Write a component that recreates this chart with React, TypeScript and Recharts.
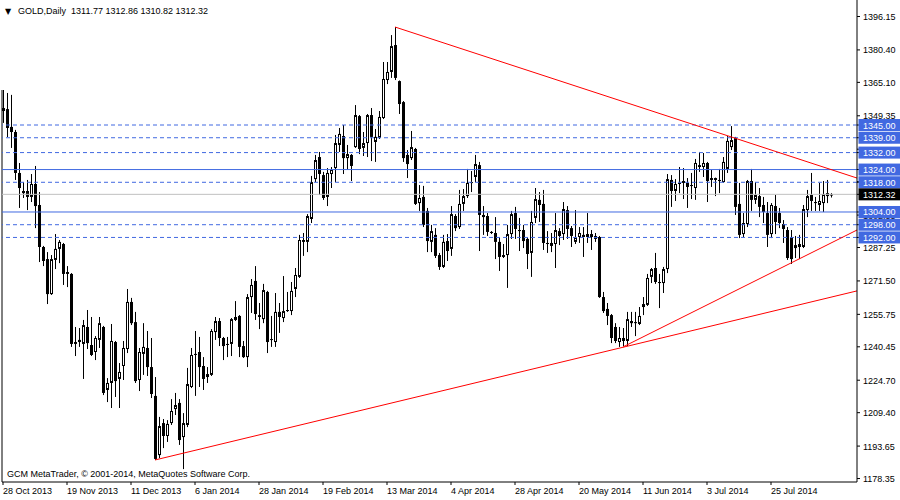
import { ComposedChart, Bar, XAxis, YAxis, ReferenceLine } from "recharts";

const FONT = "'Liberation Sans', Arial, sans-serif";
const BLUE = "#4169E1";

// daily bars, 28 Oct 2013 .. mid Aug 2014
const opens = [
  1353.0, 1352.5, 1344.1, 1341.7, 1322.4, 1313.9, 1313.9, 1311.1, 1317.2, 1307.3,
  1287.5, 1281.8, 1265.3, 1281.4, 1286.6, 1288.9, 1275.7, 1274.8, 1242.7, 1243.7,
  1241.8, 1249.8, 1241.3, 1238.0, 1243.7, 1249.8, 1220.1, 1223.4, 1242.7, 1225.3,
  1231.4, 1239.4, 1261.6, 1252.1, 1224.8, 1237.1, 1239.9, 1230.9, 1217.3, 1189.4,
  1204.5, 1198.4, 1204.5, 1211.1, 1214.0, 1197.9, 1203.6, 1221.5, 1236.6, 1238.0,
  1231.4, 1226.2, 1227.2, 1247.4, 1252.6, 1244.6, 1241.8, 1241.8, 1253.1, 1255.0,
  1240.8, 1235.6, 1263.9, 1271.5, 1254.5, 1253.5, 1266.3, 1244.1, 1242.7, 1256.9,
  1254.0, 1257.8, 1257.3, 1267.7, 1273.4, 1289.9, 1289.9, 1300.7, 1319.5, 1329.9,
  1321.4, 1311.1, 1321.9, 1324.7, 1335.6, 1339.8, 1329.4, 1330.9, 1334.6, 1349.2,
  1334.2, 1336.5, 1349.7, 1337.0, 1338.9, 1348.3, 1366.2, 1370.0, 1382.7, 1365.7,
  1355.8, 1330.9, 1329.4, 1333.7, 1308.2, 1311.1, 1304.5, 1289.9, 1293.2, 1283.7,
  1278.1, 1290.3, 1286.6, 1302.1, 1296.9, 1307.8, 1311.5, 1317.7, 1320.5, 1326.1,
  1302.6, 1302.1, 1294.6, 1294.1, 1289.9, 1283.7, 1283.7, 1293.6, 1303.5, 1295.5,
  1295.5, 1291.3, 1284.7, 1301.2, 1309.7, 1307.8, 1289.4, 1289.4, 1288.9, 1295.0,
  1293.6, 1304.9, 1296.4, 1289.9, 1292.2, 1293.2, 1292.2, 1293.6, 1291.3, 1292.2,
  1263.9, 1258.3, 1255.4, 1249.8, 1242.7, 1244.6, 1243.2, 1252.6, 1252.1, 1251.2,
  1259.2, 1260.2, 1273.4, 1277.6, 1271.0, 1270.5, 1277.1, 1319.1, 1313.9, 1317.7,
  1318.6, 1317.7, 1316.7, 1315.3, 1326.1, 1325.2, 1327.1, 1320.0, 1320.0, 1319.1,
  1318.1, 1324.3, 1334.6, 1338.9, 1307.8, 1293.6, 1298.3, 1318.6, 1309.7, 1311.5,
  1307.3, 1303.5, 1293.6, 1306.8, 1303.5, 1298.3, 1295.5, 1292.2, 1288.4, 1288.9,
  1287.5, 1304.9, 1312.0, 1308.7, 1307.3, 1308.2, 1311.5, 1311.77,
];
const highs = [
  1361.5, 1360.1, 1359.2, 1342.7, 1327.1, 1318.1, 1319.1, 1321.9, 1325.7, 1313.4,
  1288.0, 1285.1, 1283.7, 1293.6, 1290.8, 1289.4, 1278.5, 1275.2, 1249.8, 1249.3,
  1253.1, 1257.8, 1254.5, 1245.5, 1254.5, 1250.3, 1225.7, 1251.2, 1243.2, 1232.8,
  1243.2, 1267.7, 1263.5, 1256.9, 1239.9, 1251.6, 1247.9, 1244.6, 1226.2, 1207.4,
  1206.4, 1205.9, 1215.8, 1218.7, 1215.8, 1209.2, 1230.5, 1239.9, 1247.9, 1245.1,
  1235.6, 1230.9, 1248.8, 1254.5, 1254.0, 1245.1, 1245.1, 1254.0, 1262.0, 1255.4,
  1243.2, 1265.3, 1272.4, 1278.5, 1261.1, 1270.1, 1266.8, 1255.0, 1265.8, 1261.1,
  1273.8, 1266.3, 1271.0, 1277.6, 1293.2, 1294.1, 1303.0, 1321.0, 1330.9, 1332.3,
  1322.9, 1324.7, 1325.2, 1340.3, 1343.6, 1345.0, 1335.6, 1331.3, 1354.4, 1349.7,
  1341.7, 1350.2, 1353.0, 1343.1, 1351.6, 1374.7, 1374.7, 1387.4, 1391.2, 1366.0,
  1356.3, 1333.2, 1342.2, 1334.2, 1316.7, 1316.3, 1305.9, 1297.9, 1296.4, 1284.7,
  1293.2, 1293.6, 1306.8, 1303.0, 1314.4, 1314.8, 1324.3, 1323.3, 1330.9, 1327.6,
  1306.8, 1303.5, 1295.0, 1301.6, 1292.2, 1288.9, 1297.9, 1304.5, 1306.4, 1301.2,
  1297.9, 1292.2, 1304.5, 1315.3, 1313.4, 1314.4, 1295.0, 1294.1, 1303.5, 1296.4,
  1308.7, 1306.8, 1297.4, 1304.9, 1296.9, 1296.9, 1303.5, 1295.5, 1294.1, 1292.7,
  1266.3, 1261.1, 1255.9, 1251.6, 1249.8, 1249.3, 1256.9, 1256.9, 1256.9, 1259.2,
  1263.9, 1274.8, 1277.6, 1284.7, 1274.8, 1278.1, 1321.9, 1321.4, 1319.5, 1325.2,
  1324.7, 1320.0, 1322.4, 1329.0, 1332.3, 1331.8, 1327.6, 1323.8, 1320.2, 1324.3,
  1329.9, 1339.8, 1344.5, 1339.4, 1317.7, 1303.5, 1319.1, 1324.3, 1318.1, 1315.3,
  1311.1, 1308.7, 1308.2, 1312.0, 1305.9, 1300.2, 1296.9, 1295.5, 1292.7, 1293.2,
  1307.3, 1314.4, 1322.4, 1311.1, 1317.7, 1318.6, 1319.1, 1312.86,
];
const lows = [
  1346.0, 1339.3, 1334.2, 1319.1, 1305.9, 1310.6, 1304.9, 1308.7, 1296.4, 1280.4,
  1278.5, 1260.6, 1264.9, 1277.1, 1279.9, 1269.6, 1268.6, 1240.4, 1236.1, 1240.4,
  1225.3, 1239.4, 1236.1, 1234.2, 1239.9, 1217.7, 1214.4, 1211.6, 1216.8, 1211.6,
  1224.8, 1237.5, 1250.7, 1223.4, 1219.6, 1227.2, 1226.7, 1216.3, 1187.1, 1188.0,
  1192.7, 1195.6, 1203.6, 1208.3, 1194.2, 1182.8, 1202.6, 1221.0, 1217.3, 1221.5,
  1220.1, 1223.4, 1226.7, 1243.7, 1240.8, 1234.2, 1235.6, 1236.1, 1252.6, 1235.6,
  1235.2, 1230.9, 1256.4, 1253.1, 1248.8, 1251.6, 1237.5, 1240.4, 1240.4, 1247.0,
  1252.1, 1256.9, 1255.4, 1263.9, 1272.9, 1283.3, 1285.1, 1298.8, 1318.1, 1312.0,
  1309.7, 1306.8, 1315.3, 1318.1, 1332.3, 1321.9, 1323.8, 1318.6, 1334.2, 1331.3,
  1330.4, 1329.9, 1328.0, 1327.6, 1338.4, 1347.8, 1364.3, 1367.2, 1366.2, 1350.2,
  1327.6, 1320.0, 1328.5, 1307.3, 1304.5, 1296.9, 1285.1, 1285.1, 1282.3, 1276.7,
  1277.6, 1280.9, 1283.3, 1295.0, 1296.0, 1304.5, 1310.6, 1313.4, 1318.1, 1285.6,
  1293.2, 1292.7, 1293.6, 1281.8, 1276.2, 1282.3, 1268.2, 1291.3, 1291.3, 1285.6,
  1287.0, 1277.1, 1273.4, 1298.8, 1299.3, 1286.1, 1284.7, 1285.1, 1277.6, 1288.4,
  1290.8, 1291.3, 1287.5, 1288.9, 1289.4, 1282.8, 1289.4, 1286.1, 1289.9, 1263.5,
  1256.4, 1250.7, 1242.2, 1242.2, 1240.4, 1240.8, 1240.8, 1249.8, 1245.5, 1250.7,
  1255.4, 1259.7, 1270.5, 1270.1, 1258.7, 1265.8, 1275.2, 1306.4, 1309.2, 1312.9,
  1310.1, 1305.9, 1310.1, 1309.7, 1322.9, 1320.5, 1308.7, 1315.8, 1311.5, 1312.9,
  1317.7, 1322.4, 1333.2, 1302.6, 1291.7, 1292.2, 1296.9, 1304.5, 1307.8, 1301.6,
  1298.8, 1287.5, 1291.7, 1293.6, 1296.4, 1289.4, 1281.4, 1279.5, 1282.3, 1281.8,
  1287.0, 1301.6, 1304.5, 1304.5, 1304.5, 1304.0, 1308.2, 1310.82,
];
const closes = [
  1351.6, 1343.6, 1341.7, 1322.4, 1315.3, 1312.9, 1311.1, 1317.2, 1306.8, 1287.5,
  1280.9, 1265.3, 1281.8, 1286.6, 1289.9, 1274.8, 1274.8, 1241.8, 1241.8, 1242.7,
  1250.7, 1242.2, 1236.6, 1244.6, 1251.6, 1218.7, 1223.4, 1243.2, 1224.3, 1228.6,
  1239.9, 1261.6, 1251.6, 1224.3, 1238.0, 1240.4, 1230.9, 1218.2, 1187.6, 1203.1,
  1198.4, 1204.1, 1210.2, 1213.0, 1196.5, 1204.5, 1222.9, 1236.6, 1237.1, 1230.9,
  1225.3, 1227.6, 1247.9, 1252.6, 1244.6, 1240.8, 1241.3, 1253.5, 1254.5, 1240.4,
  1235.6, 1263.9, 1269.6, 1255.9, 1255.4, 1267.2, 1242.7, 1243.7, 1256.9, 1254.5,
  1257.3, 1257.3, 1266.8, 1274.3, 1290.8, 1290.8, 1302.1, 1318.1, 1328.5, 1321.9,
  1310.6, 1322.4, 1323.8, 1336.5, 1340.8, 1329.4, 1331.3, 1325.7, 1349.7, 1333.7,
  1336.5, 1349.7, 1339.4, 1339.4, 1348.8, 1366.7, 1370.0, 1382.2, 1367.2, 1354.9,
  1329.4, 1326.6, 1334.6, 1307.8, 1310.6, 1297.9, 1290.3, 1295.0, 1283.3, 1278.1,
  1289.9, 1285.6, 1303.0, 1296.4, 1307.8, 1311.5, 1317.7, 1318.1, 1326.6, 1302.6,
  1301.6, 1294.6, 1294.1, 1289.9, 1282.8, 1282.8, 1293.6, 1303.0, 1296.0, 1295.0,
  1290.3, 1284.2, 1299.3, 1310.1, 1307.3, 1289.4, 1288.9, 1288.0, 1295.5, 1292.7,
  1305.4, 1296.0, 1292.7, 1292.2, 1294.1, 1292.2, 1293.6, 1292.2, 1292.7, 1263.9,
  1257.3, 1255.0, 1244.6, 1243.2, 1244.6, 1243.2, 1253.5, 1251.6, 1251.6, 1255.0,
  1260.6, 1272.9, 1277.1, 1271.0, 1270.5, 1277.1, 1319.5, 1313.9, 1317.2, 1317.2,
  1317.7, 1315.8, 1316.3, 1327.1, 1325.2, 1327.1, 1318.6, 1319.1, 1319.1, 1318.6,
  1327.6, 1337.5, 1337.9, 1306.4, 1293.2, 1298.8, 1318.6, 1309.7, 1312.0, 1306.4,
  1304.0, 1293.2, 1307.3, 1299.3, 1298.8, 1296.0, 1282.3, 1281.8, 1287.0, 1287.5,
  1305.4, 1311.5, 1309.2, 1308.2, 1309.2, 1312.4, 1312.9, 1312.32,
];

const dateLabels = [
  "28 Oct 2013", "19 Nov 2013", "11 Dec 2013", "6 Jan 2014", "28 Jan 2014",
  "19 Feb 2014", "13 Mar 2014", "4 Apr 2014", "28 Apr 2014", "20 May 2014",
  "11 Jun 2014", "3 Jul 2014", "25 Jul 2014",
];
const labelBars = [0, 16, 32, 48, 64, 80, 96, 112, 128, 144, 160, 176, 192];

const priceTicks = [
  1396.15, 1380.4, 1365.1, 1349.35, 1333.6, 1318.3, 1302.55, 1287.25,
  1271.5, 1255.75, 1240.45, 1224.7, 1209.4, 1193.65, 1178.35,
];

const solidLevels = [1324, 1304];
const dashedLevels = [1345, 1339, 1332, 1318, 1298, 1292];
const bid = 1312.32;

// trend lines: [bar index, price] pairs
const trendLines = [
  [[98, 1391.2], [213.5, 1320.0]],
  [[38, 1187.1], [213.5, 1266.8]],
  [[155, 1240.4], [213.5, 1295.5]],
];

const Y_MIN = 1176.72;
const Y_MAX = 1403.93;
const X_MIN = -0.25;
const X_MAX = 213.5;

const levelValues = [...dashedLevels, ...solidLevels];
// plain ticks first so the level boxes are painted over them
const axisTicks = [...priceTicks, ...levelValues, bid];

const rows = opens.map((o, i) => ({
  i,
  open: o,
  high: highs[i],
  low: lows[i],
  close: closes[i],
  range: [lows[i], highs[i]],
}));

const Candle = (props: any) => {
  const { x, y, width, height, payload } = props;
  const { open, close, high, low } = payload;
  const c = Math.round(x + width / 2);
  const k = high === low ? 0 : height / (high - low);
  const yO = y + (high - open) * k;
  const yC = y + (high - close) * k;
  const top = Math.min(yO, yC);
  const bot = Math.max(yO, yC);
  const bull = close >= open;
  return (
    <g>
      <line x1={c + 0.5} x2={c + 0.5} y1={y} y2={y + height} stroke="#000" strokeWidth={1} />
      {bull && bot - top >= 2 ? (
        <rect x={c - 0.5} y={top + 0.5} width={2} height={bot - top - 1} fill="#fff" stroke="#000" strokeWidth={1} />
      ) : (
        <rect x={c - 1} y={top} width={3} height={Math.max(1, bot - top)} fill="#000" />
      )}
    </g>
  );
};

const DateTick = (props: any) => {
  const { x, y, payload } = props;
  const idx = labelBars.indexOf(payload.value);
  return (
    <text x={x} y={y} dy={7} textAnchor="start" fontSize={9} fontFamily={FONT} fill="#000">
      {dateLabels[idx]}
    </text>
  );
};

const PriceTick = (props: any) => {
  const { x, y, payload } = props;
  const v = payload.value;
  const isBid = v === bid;
  const isLevel = levelValues.includes(v);
  if (isBid || isLevel) {
    return (
      <g>
        <rect x={x - 4.5} y={y - 6} width={43} height={12} fill={isBid ? "#000" : BLUE} />
        <text x={x} y={y + 3.5} fill="#fff" fontSize={9} fontFamily={FONT}>
          {v.toFixed(2)}
        </text>
      </g>
    );
  }
  return (
    <text x={x} y={y + 3.5} fill="#000" fontSize={9} fontFamily={FONT}>
      {v.toFixed(2)}
    </text>
  );
};

export default function App() {
  return (
    <div style={{ position: "relative", width: 900, height: 500, background: "#fff" }}>
      <style>{"body{margin:0}"}</style>
      <ComposedChart width={900} height={500} data={rows} margin={{ top: 0, right: 0, bottom: 0, left: 2 }}>
        <XAxis
          dataKey="i"
          type="number"
          domain={[X_MIN, X_MAX]}
          allowDataOverflow
          ticks={labelBars}
          interval={0}
          tick={<DateTick />}
          tickSize={3}
          height={18}
          axisLine={{ stroke: "#000" }}
          tickLine={{ stroke: "#000" }}
        />
        <YAxis
          orientation="right"
          type="number"
          domain={[Y_MIN, Y_MAX]}
          allowDataOverflow
          ticks={axisTicks}
          interval={0}
          width={43}
          tickSize={3}
          tickMargin={3}
          tick={<PriceTick />}
          axisLine={{ stroke: "#000" }}
          tickLine={{ stroke: "#000" }}
        />
        <Bar dataKey="range" shape={Candle} barSize={3} isAnimationActive={false} />
        <ReferenceLine
          segment={[{ x: X_MIN, y: highs[0] }, { x: X_MIN, y: Y_MIN }]}
          stroke="#000"
        />
        <ReferenceLine y={bid} stroke="#C0C0C0" />
        {solidLevels.map((v) => (
          <ReferenceLine key={"s" + v} y={v} stroke={BLUE} />
        ))}
        {dashedLevels.map((v) => (
          <ReferenceLine key={"d" + v} y={v} stroke={BLUE} strokeDasharray="4 3" />
        ))}
        {trendLines.map((seg, k) => (
          <ReferenceLine
            key={"t" + k}
            segment={[{ x: seg[0][0], y: seg[0][1] }, { x: seg[1][0], y: seg[1][1] }]}
            stroke="#FF0000"
            strokeWidth={1}
          />
        ))}
      </ComposedChart>
      <svg width={900} height={500} style={{ position: "absolute", left: 0, top: 0, pointerEvents: "none" }}>
        <text x={5} y={14} fontSize={8} fontFamily="'DejaVu Sans'" fill="#000">▼</text>
        <text x={18} y={14} fontSize={9} fontFamily={FONT} fill="#000">
          GOLD,Daily{"\u00a0\u00a0"}1311.77 1312.86 1310.82 1312.32
        </text>
        <text x={7} y={477} fontSize={9} fontFamily={FONT} fill="#000">
          GCM MetaTrader, © 2001-2014, MetaQuotes Software Corp.
        </text>
      </svg>
    </div>
  );
}
